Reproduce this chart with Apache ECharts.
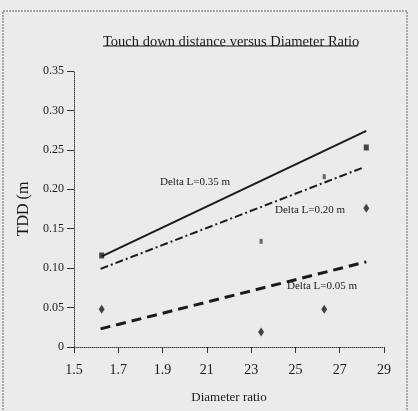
<!DOCTYPE html>
<html>
<head>
<meta charset="utf-8">
<script src="https://cdn.jsdelivr.net/npm/echarts@6/dist/echarts.min.js"></script>
<style>
html,body{margin:0;padding:0;background:#ebebeb;}
#c{width:418px;height:411px;}
</style>
</head>
<body>
<div id="c"></div>
<script>
// ---- data ----
var xOrigin = 1.5;
var xTickLabels = ['1.5', '1.7', '1.9', '21', '23', '25', '27', '29'];
var yTickLabels = ['0', '0.05', '0.10', '0.15', '0.20', '0.25', '0.30', '0.35'];

// trend lines (Diameter ratio, TDD)
var lineL035 = [[1.625, 0.115], [2.82, 0.274]];
var lineL020 = [[1.62, 0.099], [2.81, 0.228]];
var lineL005 = [[1.62, 0.023], [2.82, 0.108]];

// measured points
var pointsSquare = [[1.625, 0.116], [2.82, 0.253]];
var pointsSmall = [[2.345, 0.134], [2.63, 0.216]];
var pointsDiamond = [[1.625, 0.048], [2.345, 0.019], [2.63, 0.048], [2.82, 0.176]];

var lineNames = ['Delta L=0.35 m', 'Delta L=0.20 m', 'Delta L=0.05 m'];

function shift(arr) {
  return arr.map(function (p) { return [+(p[0] - xOrigin).toFixed(4), p[1]]; });
}

var ink = '#1a1a1a';
var font = 'Liberation Serif';

var chart = echarts.init(document.getElementById('c'), null, {renderer: 'canvas'});
chart.setOption({
  backgroundColor: '#ebebeb',
  animation: false,
  title: {
    text: 'Touch down distance versus Diameter Ratio',
    left: 98,
    top: 30,
    textStyle: {fontFamily: font, fontSize: 14.5, fontWeight: 'normal', color: ink}
  },
  grid: {left: 74, right: 34, top: 71, bottom: 64},
  xAxis: {
    type: 'value',
    min: 0, max: 1.4, interval: 0.2,
    name: 'Diameter ratio',
    nameLocation: 'middle',
    nameGap: 44,
    nameTextStyle: {fontFamily: font, fontSize: 13, color: ink},
    axisLine: {show: true, lineStyle: {color: '#444', width: 1, type: 'dotted'}},
    axisTick: {show: true, length: 6, lineStyle: {color: '#333'}},
    axisLabel: {
      fontFamily: font, fontSize: 14, color: ink, margin: 16,
      formatter: function (v) { return xTickLabels[Math.round(v / 0.2)]; }
    },
    splitLine: {show: false}
  },
  yAxis: {
    type: 'value',
    min: 0, max: 0.35, interval: 0.05,
    name: 'TDD (m',
    nameLocation: 'middle',
    nameGap: 40,
    nameRotate: 90,
    nameTextStyle: {fontFamily: font, fontSize: 16, color: ink},
    axisLine: {show: true, lineStyle: {color: '#444', width: 1, type: 'dotted'}},
    axisTick: {show: true, length: 7, lineStyle: {color: '#333'}},
    axisLabel: {
      fontFamily: font, fontSize: 12, color: ink, margin: 10,
      formatter: function (v) { return yTickLabels[Math.round(v / 0.05)]; }
    },
    splitLine: {show: false}
  },
  series: [
    {type: 'line', name: lineNames[0], data: shift(lineL035), symbol: 'none',
     lineStyle: {color: ink, width: 2, type: 'solid'}},
    {type: 'line', name: lineNames[1], data: shift(lineL020), symbol: 'none',
     lineStyle: {color: ink, width: 2, type: [8, 3, 2, 3]}},
    {type: 'line', name: lineNames[2], data: shift(lineL005), symbol: 'none',
     lineStyle: {color: ink, width: 3, type: [10, 6]}},
    {type: 'scatter', data: shift(pointsSquare), symbol: 'rect', symbolSize: [5, 6],
     itemStyle: {color: ink}, z: 5},
    {type: 'scatter', data: shift(pointsSmall), symbol: 'rect', symbolSize: [3, 5],
     itemStyle: {color: '#444'}, z: 5},
    {type: 'scatter', data: shift(pointsDiamond), symbol: 'diamond', symbolSize: [6, 9],
     itemStyle: {color: ink}, z: 5}
  ],
  graphic: [
    {type: 'line', shape: {x1: 103, y1: 46, x2: 358, y2: 46}, style: {stroke: ink, lineWidth: 1}},
    {type: 'rect', shape: {x: 3, y: 11, width: 404, height: 430},
     style: {fill: 'none', stroke: '#666', lineWidth: 1, lineDash: [2, 1]}},
    {type: 'text', left: 160, top: 177, style: {text: lineNames[0], font: '11px "Liberation Serif"', fill: ink}},
    {type: 'text', left: 275, top: 205, style: {text: lineNames[1], font: '11px "Liberation Serif"', fill: ink}},
    {type: 'text', left: 287, top: 281, style: {text: lineNames[2], font: '11px "Liberation Serif"', fill: ink}}
  ]
});
</script>
</body>
</html>
